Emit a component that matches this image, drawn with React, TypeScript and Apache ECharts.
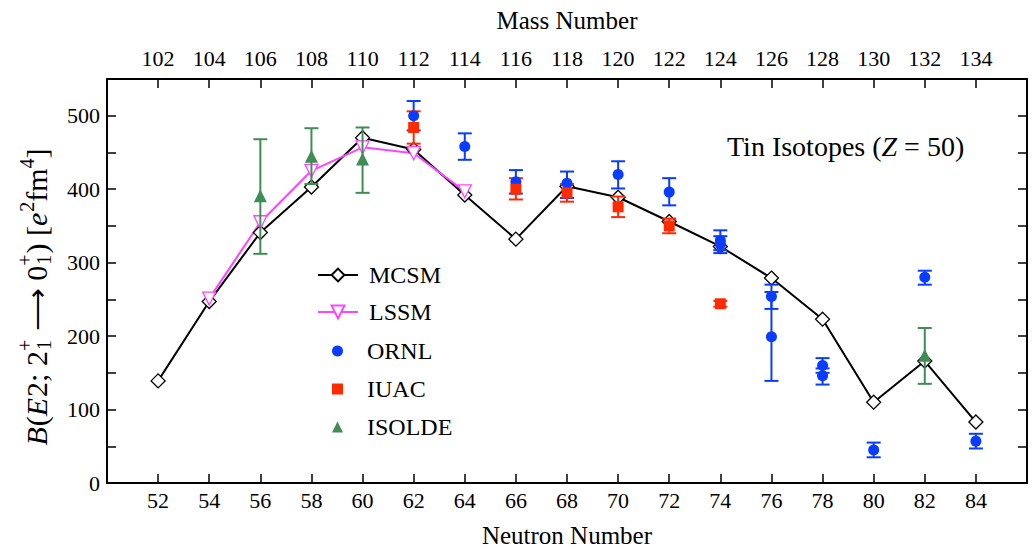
import React, { useEffect, useRef } from 'react';
import * as echarts from 'echarts';

// ---------- data ----------
const mcsmN = [52, 54, 56, 58, 60, 62, 64, 66, 68, 70, 72, 74, 76, 78, 80, 82, 84];
const mcsmB = [139, 247, 341, 403, 470, 454, 392, 332, 404, 389, 356, 322, 279, 223, 110, 166, 83];

const lssmN = [54, 56, 58, 60, 62, 64];
const lssmB = [251, 355, 425, 457, 449, 397];

const ornlN = [62, 64, 66, 68, 70, 72, 74, 74, 76, 76, 78, 78, 80, 82, 84];
const ornlB = [500, 458, 410, 408, 420, 396, 330, 325, 254, 199, 160, 146, 45, 280, 57];
const ornlLo = [480, 440, 394, 388, 401, 378, 317, 313, 237, 139, 150, 134, 35, 270, 47];
const ornlHi = [520, 476, 426, 424, 438, 415, 344, 336, 270, 260, 170, 156, 55, 289, 67];

const iuacN = [62, 66, 68, 70, 72, 74];
const iuacB = [484, 400, 395, 376, 350, 244];
const iuacLo = [462, 386, 383, 362, 340, 240];
const iuacHi = [506, 415, 407, 390, 360, 248];

const isoldeN = [56, 58, 60, 82];
const isoldeB = [391, 445, 441, 174];
const isoldeLo = [312, 407, 395, 135];
const isoldeHi = [468, 483, 484, 211];

const theoryNames = ['MCSM', 'LSSM'];
const exptNames = ['ORNL', 'IUAC', 'ISOLDE'];

const FONT = "'Liberation Serif', 'Times New Roman', serif";
const BLUE = '#0a3cff';
const RED = '#ff2a00';
const GREEN = '#3f8d55';
const MAGENTA = '#ff44ff';

function zip2(a: number[], b: number[]) {
  return a.map((v, i) => [v, b[i]]);
}
function zip4(a: number[], b: number[], c: number[], d: number[]) {
  return a.map((v, i) => [v, b[i], c[i], d[i]]);
}

function errorSeries(name: string, color: string, data: number[][]) {
  return {
    type: 'custom',
    name,
    z: 3,
    encode: { x: 0, y: [1, 2, 3] },
    data,
    renderItem: (params: any, api: any) => {
      const x = api.value(0);
      const lo = api.value(2);
      const hi = api.value(3);
      const p1 = api.coord([x, hi]);
      const p2 = api.coord([x, lo]);
      const w = 7;
      const style = { stroke: color, lineWidth: 2 };
      return {
        type: 'group',
        children: [
          { type: 'line', shape: { x1: p1[0], y1: p1[1], x2: p2[0], y2: p2[1] }, style },
          { type: 'line', shape: { x1: p1[0] - w, y1: p1[1], x2: p1[0] + w, y2: p1[1] }, style },
          { type: 'line', shape: { x1: p2[0] - w, y1: p2[1], x2: p2[0] + w, y2: p2[1] }, style },
        ],
      };
    },
  };
}

function buildYTitle() {
  const F = 30;
  const S = 20;
  const canvas = document.createElement('canvas');
  const ctx = canvas.getContext('2d') as CanvasRenderingContext2D;
  const measure = (t: string, size: number, italic?: boolean) => {
    ctx.font = `${italic ? 'italic ' : ''}${size}px ${FONT}`;
    return ctx.measureText(t).width;
  };
  type Part = { t?: string; it?: boolean; stack?: [string, string]; sup?: string };
  const parts: Part[] = [
    { t: 'B', it: true },
    { t: '(' },
    { t: 'E', it: true },
    { t: '2; 2' },
    { stack: ['+', '1'] },
    { t: ' \u27F6 0' },
    { stack: ['+', '1'] },
    { t: ') [' },
    { t: 'e', it: true },
    { sup: '2' },
    { t: 'fm' },
    { sup: '4' },
    { t: ']' },
  ];
  const children: any[] = [];
  let x = 0;
  const mk = (text: string, px: number, py: number, size: number, italic?: boolean) => ({
    type: 'text',
    x: px,
    y: py,
    style: {
      text,
      fontSize: size,
      fontFamily: FONT,
      fontStyle: italic ? 'italic' : 'normal',
      fill: '#000',
      align: 'left',
      verticalAlign: 'middle',
    },
  });
  for (const p of parts) {
    if (p.t !== undefined) {
      children.push(mk(p.t, x, 0, F, p.it));
      x += measure(p.t, F, p.it) + (p.it ? 1 : 0);
    } else if (p.stack) {
      children.push(mk(p.stack[0], x, -0.38 * F, S));
      children.push(mk(p.stack[1], x + 1, 0.26 * F, S));
      x += Math.max(measure(p.stack[0], S), measure(p.stack[1], S)) + 1;
    } else if (p.sup) {
      children.push(mk(p.sup, x, -0.3 * F, S));
      x += measure(p.sup, S);
    }
  }
  return { type: 'group', x: 36, y: 297 + x / 2, rotation: Math.PI / 2, children, silent: true };
}

export default function App() {
  const ref = useRef<HTMLDivElement>(null);
  useEffect(() => {
    if (!ref.current) return;
    const chart = echarts.init(ref.current, undefined, { renderer: 'svg' });
    const axisCommon = {
      type: 'value',
      axisLine: { show: true, onZero: false, lineStyle: { color: '#000', width: 2 } },
      axisTick: { show: true, inside: true, length: 9, lineStyle: { color: '#000', width: 1.5 } },
      splitLine: { show: false },
      nameTextStyle: { color: '#000', fontSize: 25, fontFamily: FONT },
    };
    const legendText = { color: '#000', fontSize: 24, fontFamily: FONT };
    chart.setOption({
      animation: false,
      backgroundColor: '#fff',
      grid: { left: 107, right: 5, top: 79, bottom: 66, containLabel: false, outerBoundsMode: 'none' },
      xAxis: [
        {
          ...axisCommon,
          position: 'bottom',
          min: 50,
          max: 86,
          interval: 2,
          name: 'Neutron Number',
          nameLocation: 'middle',
          nameGap: 40,
          axisLabel: {
            show: true,
            color: '#000',
            fontSize: 22,
            fontFamily: FONT,
            margin: 6,
            showMinLabel: false,
            showMaxLabel: false,
          },
        },
        {
          ...axisCommon,
          position: 'top',
          min: 100,
          max: 136,
          interval: 2,
          name: 'Mass Number',
          nameLocation: 'middle',
          nameGap: 46,
          axisLabel: {
            show: true,
            color: '#000',
            fontSize: 22,
            fontFamily: FONT,
            margin: 10,
            showMinLabel: false,
            showMaxLabel: false,
          },
        },
      ],
      yAxis: [
        {
          ...axisCommon,
          position: 'left',
          min: 0,
          max: 550,
          interval: 50,
          axisLabel: {
            show: true,
            color: '#000',
            fontSize: 22,
            fontFamily: FONT,
            margin: 7,
            formatter: (v: number) => (v % 100 === 0 && v <= 500 ? String(v) : ''),
          },
        },
        {
          ...axisCommon,
          position: 'right',
          min: 0,
          max: 550,
          interval: 50,
          axisLabel: { show: false },
        },
      ],
      legend: [
        {
          data: theoryNames,
          orient: 'vertical',
          left: 312,
          top: 258,
          itemWidth: 40,
          itemHeight: 16,
          itemGap: 13,
          selectedMode: false,
          textStyle: { ...legendText, padding: [0, 0, 0, 6] },
        },
        {
          data: exptNames,
          orient: 'vertical',
          left: 327,
          top: 334,
          itemWidth: 11,
          itemHeight: 11,
          itemGap: 14,
          selectedMode: false,
          textStyle: { ...legendText, padding: [0, 0, 0, 19] },
        },
      ],
      graphic: [
        {
          type: 'text',
          left: 727,
          top: 132,
          style: {
            text: '{a|Tin Isotopes (}{i|Z}{a| = 50)}',
            rich: {
              a: { fontSize: 28, fontFamily: FONT, fill: '#000' },
              i: { fontSize: 28, fontFamily: FONT, fontStyle: 'italic', fill: '#000' },
            },
          },
        },
        buildYTitle(),
      ],
      series: [
        {
          type: 'line',
          name: 'MCSM',
          data: zip2(mcsmN, mcsmB),
          z: 2,
          symbol: 'diamond',
          symbolSize: 14,
          lineStyle: { color: '#000', width: 2 },
          itemStyle: { color: '#fff', borderColor: '#000', borderWidth: 1.3 },
        },
        {
          type: 'line',
          name: 'LSSM',
          data: zip2(lssmN, lssmB),
          z: 2,
          symbol: 'triangle',
          symbolRotate: 180,
          symbolSize: 13,
          lineStyle: { color: MAGENTA, width: 2 },
          itemStyle: { color: '#fff', borderColor: MAGENTA, borderWidth: 1.3 },
        },
        errorSeries('ORNL error', BLUE, zip4(ornlN, ornlB, ornlLo, ornlHi)),
        errorSeries('IUAC error', RED, zip4(iuacN, iuacB, iuacLo, iuacHi)),
        errorSeries('ISOLDE error', GREEN, zip4(isoldeN, isoldeB, isoldeLo, isoldeHi)),
        {
          type: 'scatter',
          name: 'ORNL',
          data: zip2(ornlN, ornlB),
          z: 4,
          symbol: 'circle',
          symbolSize: 11,
          itemStyle: { color: BLUE, opacity: 1 },
        },
        {
          type: 'scatter',
          name: 'IUAC',
          data: zip2(iuacN, iuacB),
          z: 4,
          symbol: 'rect',
          symbolSize: 11,
          itemStyle: { color: RED, opacity: 1 },
        },
        {
          type: 'scatter',
          name: 'ISOLDE',
          data: zip2(isoldeN, isoldeB),
          z: 4,
          symbol: 'triangle',
          symbolSize: 13,
          itemStyle: { color: GREEN, opacity: 1 },
        },
      ],
    });
    return () => chart.dispose();
  }, []);
  return (
    <div
      ref={ref}
      style={{ position: 'fixed', left: 0, top: 0, width: 1032, height: 549, background: '#fff' }}
    />
  );
}
